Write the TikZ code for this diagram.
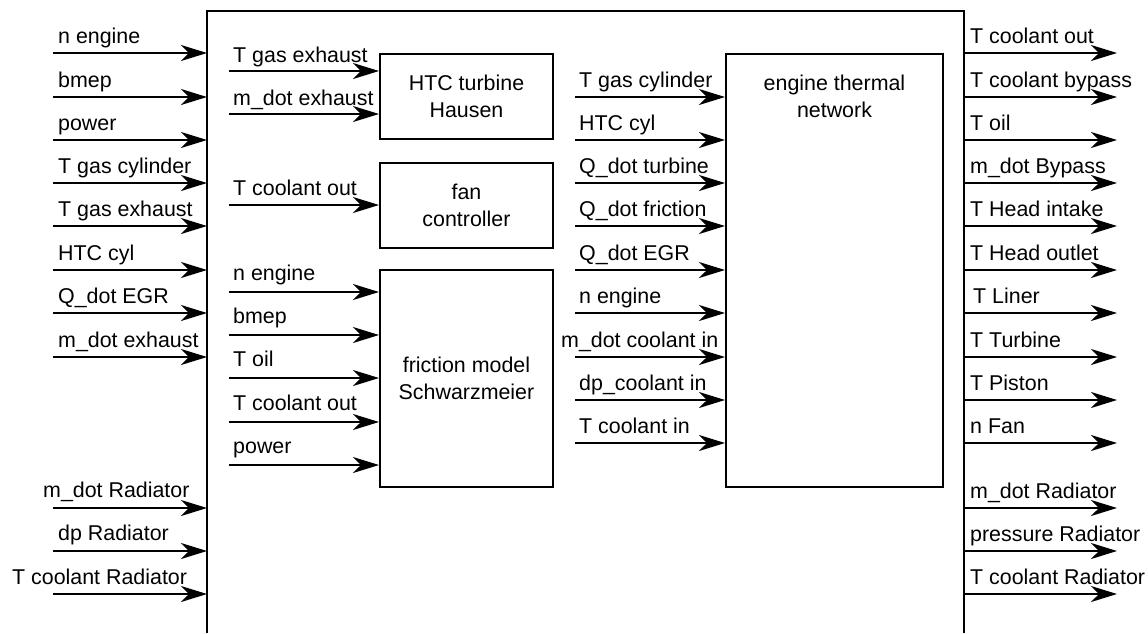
\documentclass[tikz,border=0pt]{standalone}
\usepackage{fontspec}
\setmainfont{Liberation Sans}
\usetikzlibrary{arrows.meta}
\begin{document}
\begin{tikzpicture}[x=1pt,y=-1pt,
  font=\fontsize{21.4}{27}\selectfont,
  framestyle/.style={line width=2.6pt},
  box/.style={draw,line width=2pt,inner sep=0pt,align=center},
  lbl/.style={anchor=base west,inner sep=0pt},
  arr/.style={line width=2pt,-{Stealth[length=26pt,width=16pt,inset=8pt]}}]
\useasboundingbox (0,0) rectangle (1148,633);
% outer frame
\coordinate (FL) at (207,0);
\coordinate (FR) at (964,0);
\coordinate (OE) at (1117,0);
\draw[framestyle] (207,633) -- (207,11) -- (964,11) -- (964,633);
% inner blocks
\node[box,minimum width=173pt,minimum height=85pt] (htc) at (466.5,96.5) {HTC turbine\\Hausen};
\node[box,minimum width=173pt,minimum height=85pt] (fan) at (466.5,205.5) {fan\\controller};
\node[box,minimum width=173pt,minimum height=217pt] (fric) at (466.5,378.5) {friction model\\Schwarzmeier};
\node[box,minimum width=217pt,minimum height=433pt] (eng) at (834.5,270.5) {};
\node[inner sep=0pt,align=center] (engtxt) at (834.5,96.5) {engine thermal\\network};
% left inputs
\foreach \y/\t/\n in {53/n engine/l1,97/bmep/l2,140/power/l3,183/T gas cylinder/l4,226/T gas exhaust/l5,270/HTC cyl/l6,313/Q\_dot EGR/l7,357/m\_dot exhaust/l8}{
  \node[lbl] (\n) at (58,\y-10) {\t};
  \coordinate (\n s) at (53,\y);
  \draw[arr] (\n s) -- (\n s -| FL);
}
\node[lbl] (r1) at (43,497) {m\_dot Radiator};
\node[lbl] (r2) at (58,540) {dp Radiator};
\node[lbl] (r3) at (12,584) {T coolant Radiator};
\foreach \y/\n in {508/r1,551/r2,594/r3}{
  \coordinate (\n s) at (53,\y);
  \draw[arr] (\n s) -- (\n s -| FL);
}
% HTC inputs
\foreach \y/\t/\n in {71/T gas exhaust/h1,114/m\_dot exhaust/h2}{
  \node[lbl] (\n) at (233,\y-9) {\t};
  \coordinate (\n s) at (229,\y);
  \draw[arr] (\n s) -- (\n s -| htc.west);
}
% fan input
\node[lbl] (f1) at (233,195) {T coolant out};
\coordinate (f1s) at (229,205);
\draw[arr] (f1s) -- (f1s -| fan.west);
% friction inputs
\foreach \y/\t/\n in {292/n engine/q1,335/bmep/q2,378/T oil/q3,422/T coolant out/q4,465/power/q5}{
  \node[lbl] (\n) at (233,\y-12) {\t};
  \coordinate (\n s) at (229,\y);
  \draw[arr] (\n s) -- (\n s -| fric.west);
}
% engine inputs
\foreach \y/\t/\n/\x in {97/T gas cylinder/e1/579,140/HTC cyl/e2/579,183/Q\_dot turbine/e3/579,226/Q\_dot friction/e4/579,270/Q\_dot EGR/e5/579,313/n engine/e6/579,357/m\_dot coolant in/e7/561,400/dp\_coolant in/e8/579,443/T coolant in/e9/579}{
  \node[lbl] (\n) at (\x,\y-10) {\t};
  \coordinate (\n s) at (575,\y);
  \draw[arr] (\n s) -- (\n s -| eng.west);
}
% outputs
\foreach \y/\t/\n/\x in {53/T coolant out/o1/970,97/T coolant bypass/o2/970,140/T oil/o3/970,183/m\_dot Bypass/o4/970,226/T Head intake/o5/970,270/T Head outlet/o6/970,313/T Liner/o7/973,357/T Turbine/o8/970,400/T Piston/o9/970,443/n Fan/o10/970,508/m\_dot Radiator/o11/970,551/pressure Radiator/o12/970,594/T coolant Radiator/o13/970}{
  \node[lbl] (\n) at (\x,\y-10) {\t};
  \coordinate (\n s) at (964,\y);
  \draw[arr] (\n s) -- (\n s -| OE);
}
\end{tikzpicture}
\end{document}
